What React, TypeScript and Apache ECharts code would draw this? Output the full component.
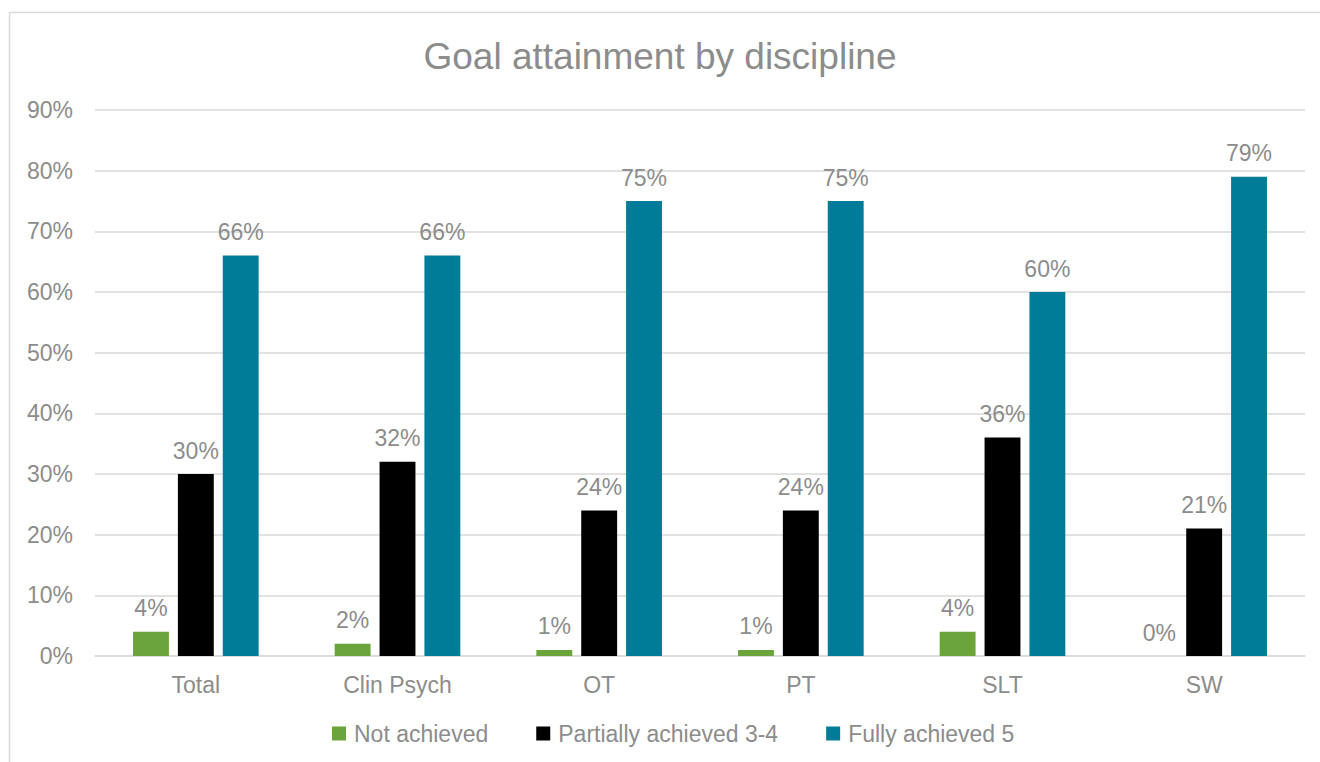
import React, { useEffect, useRef } from "react";
import * as echarts from "echarts";

const categories = ["Total", "Clin Psych", "OT", "PT", "SLT", "SW"];
const notAchieved = [4, 2, 1, 1, 4, 0];
const partiallyAchieved = [30, 32, 24, 24, 36, 21];
const fullyAchieved = [66, 66, 75, 75, 60, 79];
const seriesNames = ["Not achieved", "Partially achieved 3-4", "Fully achieved 5"];
const colors = ["#6aa43a", "#000000", "#007c98"];

const FONT = "'Liberation Sans', Arial, sans-serif";
const GREY = "#8c8c8c";

export default function App() {
  const ref = useRef<HTMLDivElement>(null);
  useEffect(() => {
    const chart = echarts.init(ref.current!, null, { renderer: "svg" });
    const mk = (name: string, data: number[], color: string) => ({
      name,
      type: "bar",
      data,
      barWidth: "17.8%",
      barGap: "25%",
      itemStyle: { color },
      label: {
        show: true,
        position: "top",
        distance: 12,
        formatter: "{c}%",
        color: GREY,
        fontSize: 23,
        fontFamily: FONT,
      },
    });
    chart.setOption({
      animation: false,
      backgroundColor: "#ffffff",
      title: {
        text: "Goal attainment by discipline",
        left: "center",
        top: 33,
        textStyle: { color: GREY, fontSize: 37, fontWeight: "normal", fontFamily: FONT },
      },
      graphic: [
        {
          type: "rect",
          shape: { x: 9.5, y: 12.5, width: 1330, height: 780 },
          style: { fill: "none", stroke: "#d9d9d9", lineWidth: 1.5 },
          silent: true,
        },
      ],
      legend: {
        bottom: 12,
        left: 327,
        itemWidth: 14,
        itemHeight: 14,
        itemGap: 48,
        icon: "rect",
        textStyle: { color: GREY, fontSize: 23, fontFamily: FONT, padding: [0, 0, 0, 3] },
        data: seriesNames,
      },
      grid: { left: 95, right: 15, top: 110, bottom: 106, containLabel: false },
      xAxis: {
        type: "category",
        data: categories,
        axisLine: { lineStyle: { color: "#d9d9d9", width: 1.5 } },
        axisTick: { show: false },
        axisLabel: { color: GREY, fontSize: 23, fontFamily: FONT, margin: 17 },
      },
      yAxis: {
        type: "value",
        min: 0,
        max: 90,
        interval: 10,
        axisLine: { show: false },
        axisTick: { show: false },
        axisLabel: { formatter: "{value}%", color: GREY, fontSize: 23, fontFamily: FONT, margin: 22 },
        splitLine: { lineStyle: { color: "#d9d9d9", width: 1.5 } },
      },
      series: [
        mk(seriesNames[0], notAchieved, colors[0]),
        mk(seriesNames[1], partiallyAchieved, colors[1]),
        mk(seriesNames[2], fullyAchieved, colors[2]),
      ],
    });
    return () => chart.dispose();
  }, []);
  return (
    <div
      ref={ref}
      style={{ position: "fixed", left: 0, top: 0, width: 1320, height: 762 }}
    />
  );
}
